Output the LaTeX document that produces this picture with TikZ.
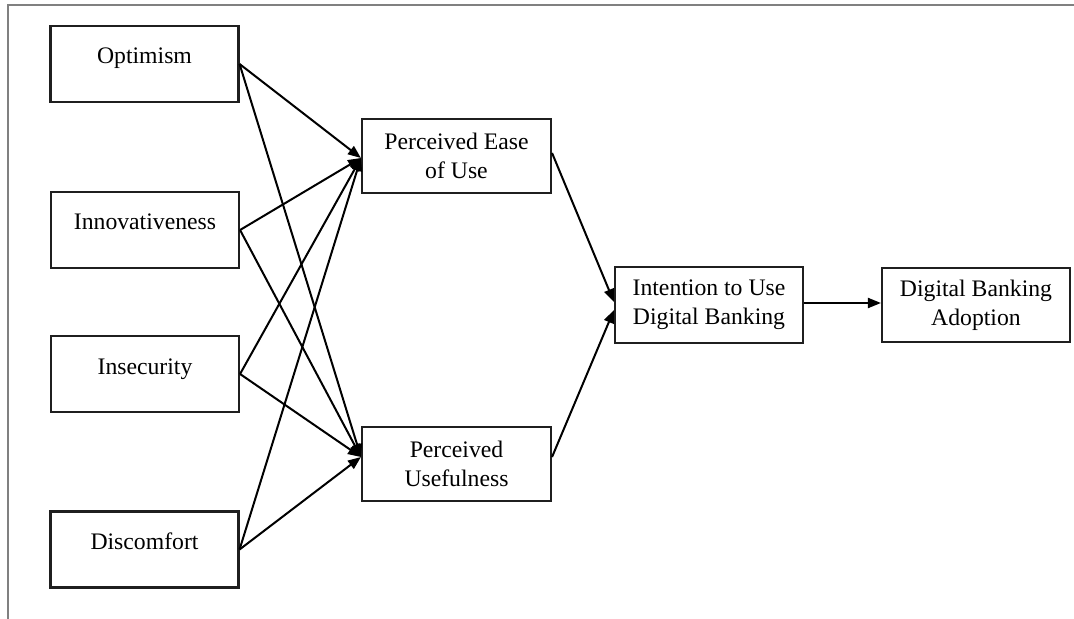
\documentclass[tikz,border=0pt]{standalone}
\usepackage{fontspec}
\setmainfont{Liberation Serif}
\usetikzlibrary{arrows.meta,calc}
\begin{document}
\begin{tikzpicture}[x=1bp,y=-1bp,
 box/.style={draw=black!88, line width=2.1bp, minimum width=188bp, minimum height=76bp, inner sep=0pt, align=center, font=\fontsize{23.7bp}{29bp}\selectfont},
 oneline/.style={text height=16bp, text depth=16bp},
 link/.style={line width=2bp, -{Triangle[length=13bp,width=10bp]}},
 frame/.style={draw=gray, line width=1.5bp}]
\useasboundingbox (0,0) rectangle (1074,619);
\draw[frame] (8,619) -- (8,5) -- (1074,5);

\node[box,oneline] (opt) at (144.5,64) {Optimism};
\node[box,oneline] (inn) at (145,230) {Innovativeness};
\node[box,oneline] (ins) at (145,374) {Insecurity};
\node[box,oneline] (dis) at (144.5,549.5) {Discomfort};
\node[box, minimum width=189bp, minimum height=74bp] (peu) at (456.5,156) {Perceived Ease\\of Use};
\node[box, minimum width=189bp, minimum height=74bp] (pu) at (456.5,464) {Perceived\\Usefulness};
\node[box] (int) at (709,305) {Intention to Use\\Digital Banking};
\node[box, minimum height=74bp] (dba) at (976,305) {Digital Banking\\Adoption};

\coordinate (peuin) at ($(peu.west)+(0,2)$);
\coordinate (puin) at ($(pu.west)+(0,-7)$);
\coordinate (intin1) at ($(int.west)+(0,-3)$);
\coordinate (intin2) at ($(int.west)+(0,5)$);
\coordinate (peuout) at ($(peu.east)+(0,-3)$);
\coordinate (puout) at ($(pu.east)+(0,-7)$);
\coordinate (intout) at ($(int.east)+(0,-2)$);

\foreach \s in {opt,inn,ins,dis}{
  \draw[link] (\s.east) -- (peuin);
  \draw[link] (\s.east) -- (puin);
}
\draw[link] (peuout) -- (intin1);
\draw[link] (puout) -- (intin2);
\draw[link] (intout) -- (dba.west |- intout);
\end{tikzpicture}
\end{document}
